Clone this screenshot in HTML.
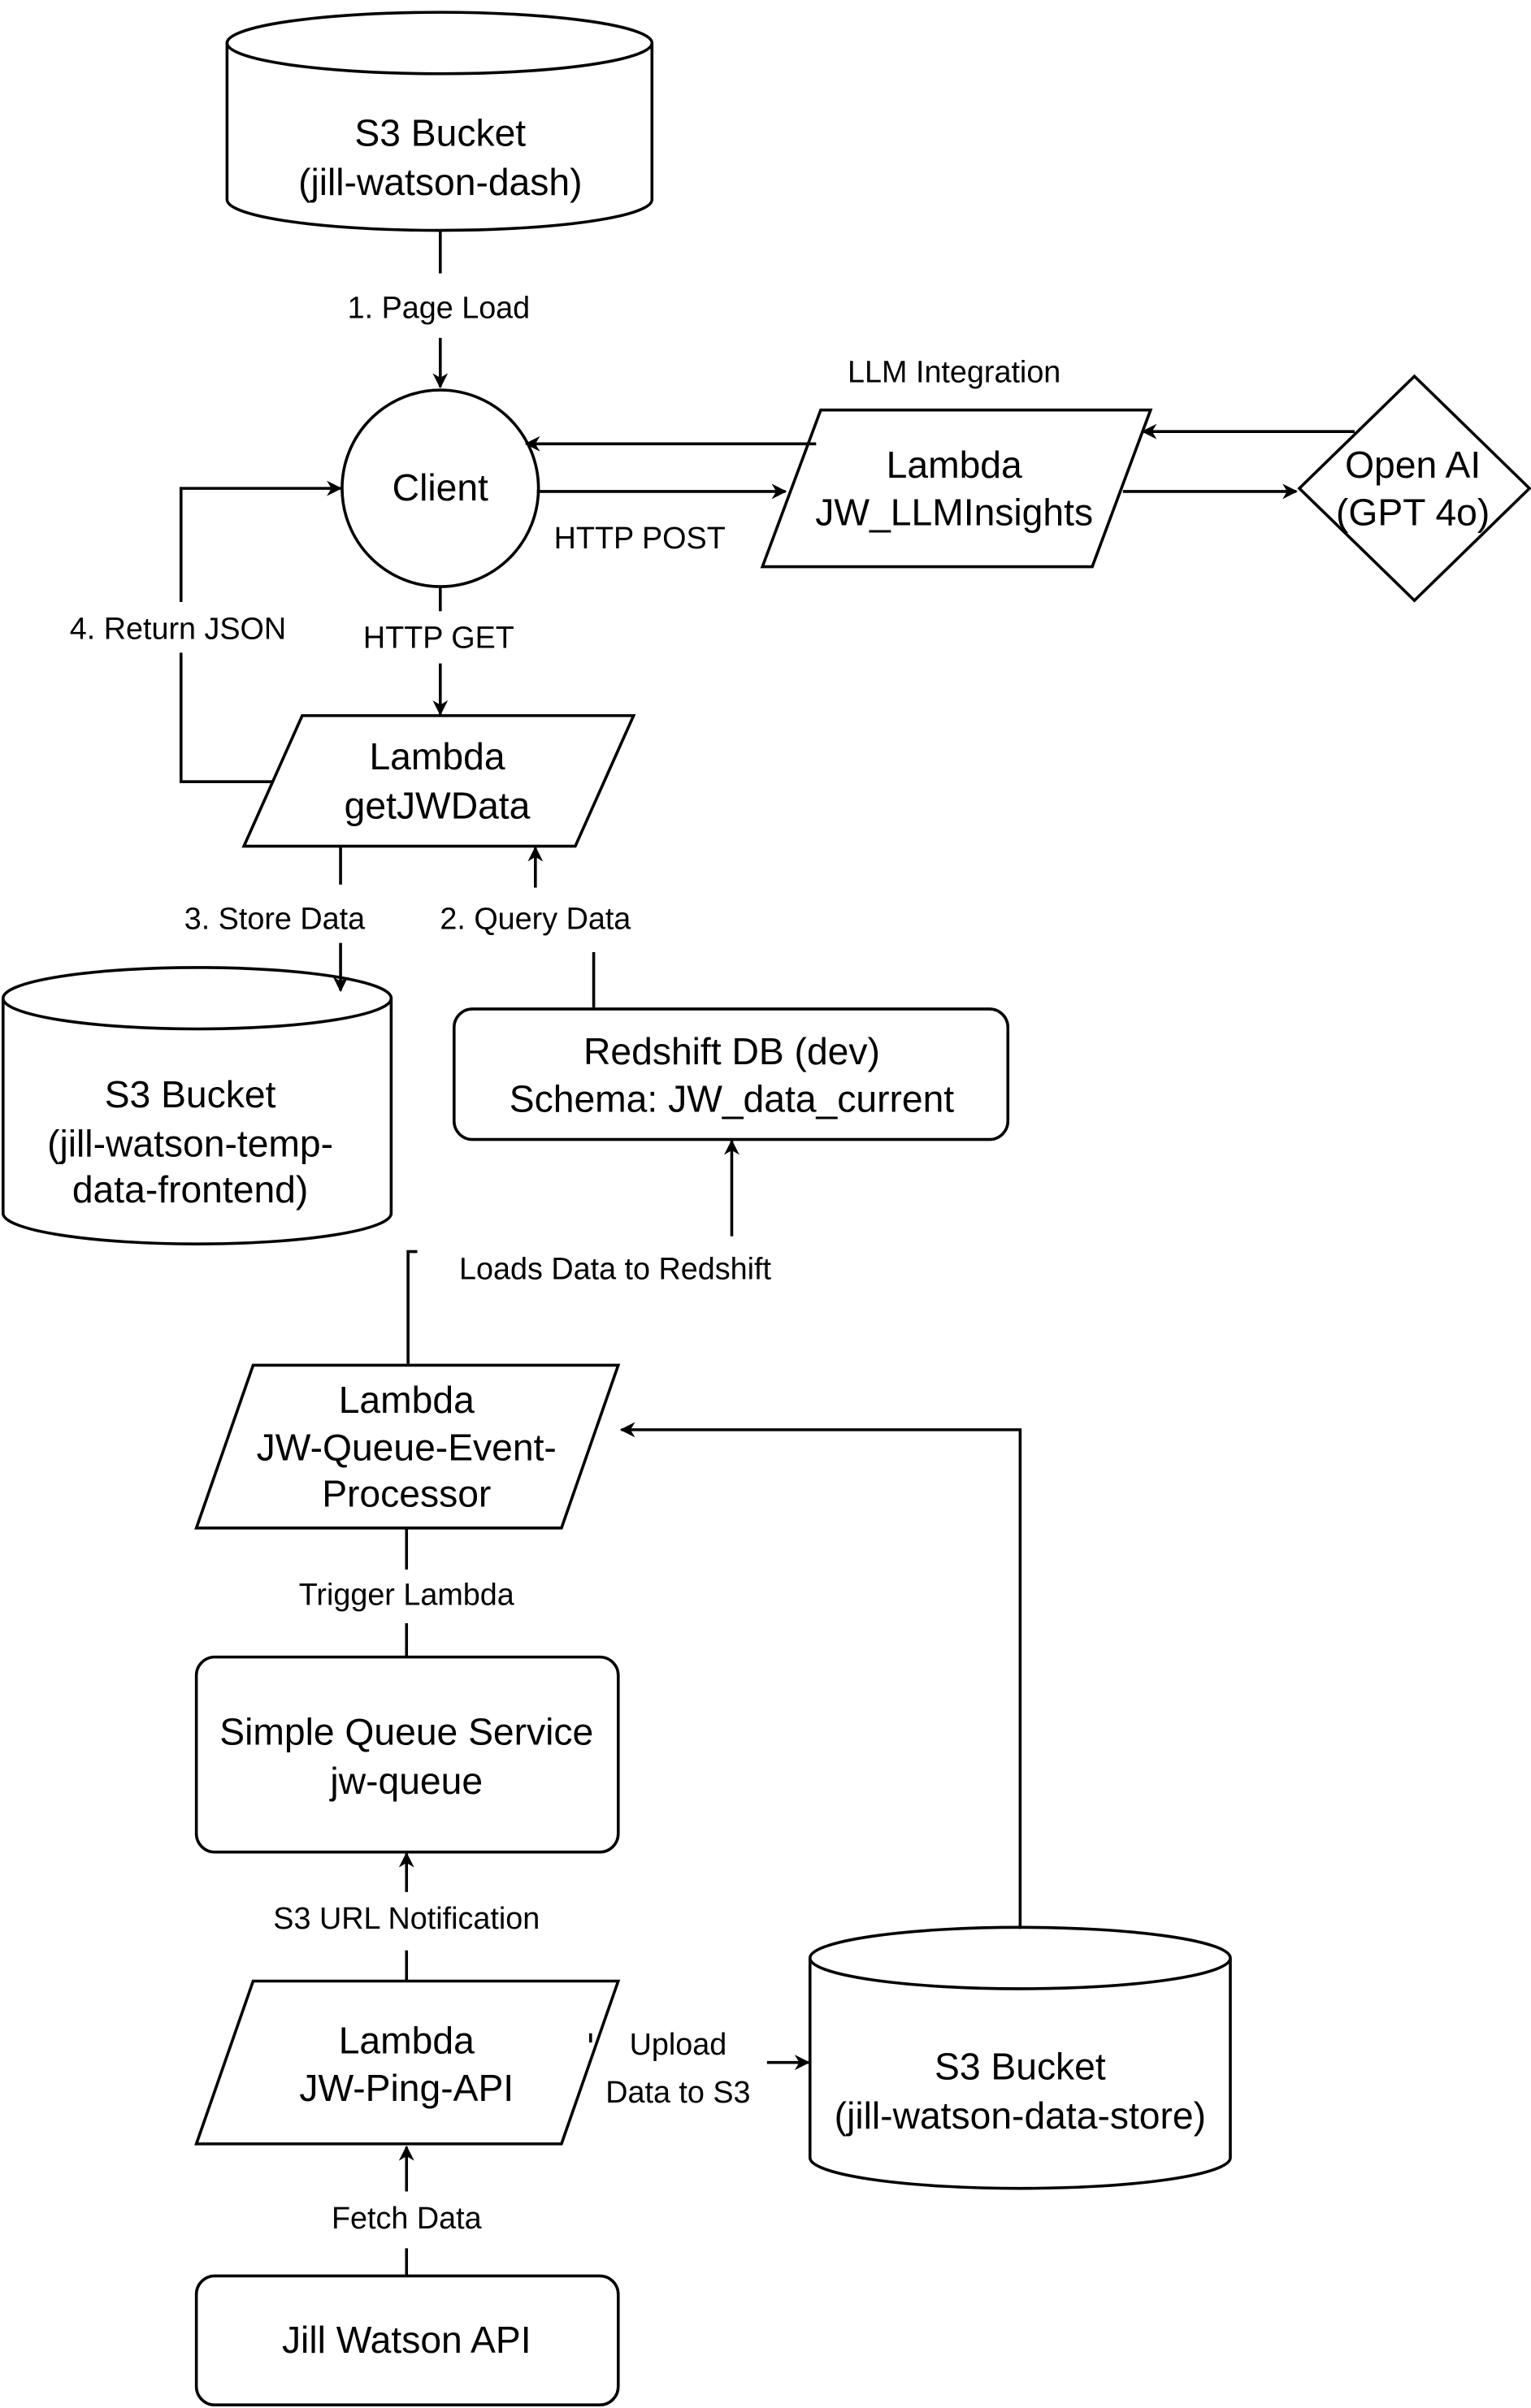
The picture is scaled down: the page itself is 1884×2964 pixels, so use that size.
<!DOCTYPE html>
<html><head><meta charset="utf-8"><style>
html,body{margin:0;padding:0;background:#fff;}
svg{display:block}
text{font-family:"Liberation Sans",Arial,sans-serif;fill:#000;text-anchor:middle;}
.n{font-size:24.5px}
.l{font-size:20px}
</style></head><body>
<svg width="1884" height="2964" viewBox="0 0 998 1568" preserveAspectRatio="none" xmlns="http://www.w3.org/2000/svg">
<defs><marker id="a" markerWidth="10" markerHeight="10" refX="9" refY="5" orient="auto" markerUnits="userSpaceOnUse"><path d="M0,0 L10,5 L0,10 L3,5 z" fill="#000"/></marker></defs>
<g fill="none" stroke="#000" stroke-width="1.9">
<path d="M148,28 A138.5,20 0 0 1 425,28 L425,130 A138.5,20 0 0 1 148,130 Z" fill="#fff"/>
<path d="M148,28 A138.5,20 0 0 0 425,28"/>
<circle cx="287" cy="318" r="64" fill="#fff"/>
<polygon points="535,267 750,267 712,369 497,369" fill="#fff"/>
<polygon points="922,245 997,318 922,391 847,318" fill="#fff"/>
<polygon points="197,466 413,466 375,551 159,551" fill="#fff"/>
<path d="M2,650 A126.5,20 0 0 1 255,650 L255,790 A126.5,20 0 0 1 2,790 Z" fill="#fff"/>
<path d="M2,650 A126.5,20 0 0 0 255,650"/>
<rect x="296" y="657" width="361" height="85" rx="12" fill="#fff"/>
<polygon points="165,889 403,889 366,995 128,995" fill="#fff"/>
<rect x="128" y="1079" width="275" height="127" rx="12" fill="#fff"/>
<polygon points="165,1290 403,1290 366,1396 128,1396" fill="#fff"/>
<path d="M528,1275 A137,20 0 0 1 802,1275 L802,1405 A137,20 0 0 1 528,1405 Z" fill="#fff"/>
<path d="M528,1275 A137,20 0 0 0 802,1275"/>
<rect x="128" y="1482" width="275" height="84" rx="12" fill="#fff"/>

<path d="M287,150 V178"/><path d="M287,220 V252" marker-end="url(#a)"/>
<path d="M350,320 H512" marker-end="url(#a)"/>
<path d="M532,289 H343" marker-end="url(#a)"/>
<path d="M732,320 H845" marker-end="url(#a)"/>
<path d="M883,281 H745" marker-end="url(#a)"/>
<path d="M287,382 V398"/><path d="M287,432 V465" marker-end="url(#a)"/>
<path d="M178,509 H118 V425"/><path d="M118,392 V318 H222" marker-end="url(#a)"/>
<path d="M222,551 V576"/><path d="M222,614 V645" marker-end="url(#a)"/>
<path d="M387,656 V620"/><path d="M349,578 V552" marker-end="url(#a)"/>
<path d="M477,805 V743" marker-end="url(#a)"/>
<path d="M272,815 H266 V888"/>
<path d="M665,1256 V931 H405" marker-end="url(#a)"/>
<path d="M265,995 V1022"/><path d="M265,1057 V1079"/>
<path d="M265,1232 V1207" marker-end="url(#a)"/><path d="M265,1270 V1290"/>
<path d="M385,1324 V1330"/><path d="M500,1343 H527" marker-end="url(#a)"/>
<path d="M265,1427 V1398" marker-end="url(#a)"/><path d="M265,1464 V1482"/>
</g>
<text class="n" x="287" y="95">S3 Bucket</text>
<text class="n" x="287" y="127">(jill-watson-dash)</text>
<text class="l" x="286" y="207">1. Page Load</text>
<text class="n" x="287" y="326">Client</text>
<text class="l" x="622" y="249">LLM Integration</text>
<text class="n" x="622" y="311">Lambda</text>
<text class="n" x="622" y="342">JW_LLMInsights</text>
<text class="l" x="417" y="357">HTTP POST</text>
<text class="n" x="921" y="311">Open AI</text>
<text class="n" x="921" y="342">(GPT 4o)</text>
<text class="l" x="286" y="422">HTTP GET</text>
<text class="l" x="116" y="416">4. Return JSON</text>
<text class="n" x="285" y="501">Lambda</text>
<text class="n" x="285" y="533">getJWData</text>
<text class="l" x="179" y="605">3. Store Data</text>
<text class="l" x="349" y="605">2. Query Data</text>
<text class="n" x="124" y="721">S3 Bucket</text>
<text class="n" x="124" y="753">(jill-watson-temp-</text>
<text class="n" x="124" y="783">data-frontend)</text>
<text class="n" x="477" y="693">Redshift DB (dev)</text>
<text class="n" x="477" y="724">Schema: JW_data_current</text>
<text class="l" x="401" y="833">Loads Data to Redshift</text>
<text class="n" x="265" y="920">Lambda</text>
<text class="n" x="265" y="951">JW-Queue-Event-</text>
<text class="n" x="265" y="981">Processor</text>
<text class="l" x="265" y="1045">Trigger Lambda</text>
<text class="n" x="265" y="1136">Simple Queue Service</text>
<text class="n" x="265" y="1168">jw-queue</text>
<text class="l" x="265" y="1256">S3 URL Notification</text>
<text class="n" x="265" y="1337">Lambda</text>
<text class="n" x="265" y="1368">JW-Ping-API</text>
<text class="l" x="442" y="1338">Upload</text>
<text class="l" x="442" y="1369">Data to S3</text>
<text class="n" x="665" y="1354">S3 Bucket</text>
<text class="n" x="665" y="1386">(jill-watson-data-store)</text>
<text class="l" x="265" y="1451">Fetch Data</text>
<text class="n" x="265" y="1532">Jill Watson API</text>
</svg>
</body></html>
